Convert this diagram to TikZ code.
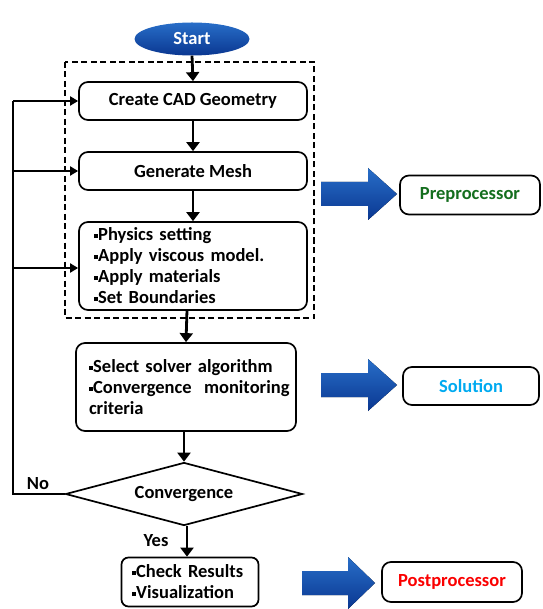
\documentclass[tikz,border=0pt]{standalone}
\usepackage{fontspec}
\setmainfont{Carlito}
\usetikzlibrary{arrows.meta,shapes.geometric}
\definecolor{bluetop}{RGB}{40,110,200}
\definecolor{bluebot}{RGB}{10,55,145}
\definecolor{pregreen}{RGB}{20,110,30}
\definecolor{solblue}{RGB}{0,170,240}
\definecolor{postred}{RGB}{250,0,0}
\newcommand{\bul}{\rule[0.32ex]{3.6pt}{3.8pt}\kern0.6pt}
\tikzset{
  txt/.style={font=\fontsize{18.5}{21}\selectfont\bfseries},
  box/.style={draw=black,line width=1.7pt,rounded corners=9pt,inner sep=0pt,txt},
  flow/.style={line width=2.8pt,-{Triangle[length=9pt,width=13pt]}},
  loop/.style={line width=1.8pt},
  looparrow/.style={line width=1.8pt,-{Triangle[length=8pt,width=9pt]}},
  bigarrow/.style={top color=bluetop,bottom color=bluebot,draw=none},
  lab/.style={txt,inner sep=0pt}
}
\begin{document}
\begin{tikzpicture}[x=1pt,y=-1pt]
\useasboundingbox (0,0) rectangle (542,609);
% start
\node[ellipse,minimum width=115pt,minimum height=33pt,inner sep=0pt,top color=bluetop,bottom color=bluebot,text=white,txt] (start) at (192,39) {Start};
% dashed group
\draw[line width=1.3pt,dash pattern=on 6pt off 3.5pt] (65,62) rectangle (314,318);
% boxes
\node[box,minimum width=228pt,minimum height=38pt] (cad) at (193,101) {Create CAD Geometry};
\node[box,minimum width=228pt,minimum height=38pt] (mesh) at (193,171) {Generate Mesh};
\node[box,minimum width=228pt,minimum height=88pt,text width=198pt,align=left] (phys) at (193,266)
  {\bul Physics setting\\\bul Apply viscous model.\\\bul Apply materials\\\bul Set Boundaries};
\node[box,minimum width=220pt,minimum height=88pt,text width=194pt,align=left] (solver) at (186,387)
  {\bul Select solver algorithm\\\makebox[194pt][l]{\bul Convergence\ \ monitoring}\\criteria};
\node[diamond,draw=black,line width=1.7pt,minimum width=237pt,minimum height=63pt,aspect=3.76,inner sep=0pt,txt] (conv) at (184,494) {Convergence};
\node[box,rounded corners=7pt,minimum width=137pt,minimum height=49pt,text width=116pt,align=left] (check) at (190,582)
  {\bul Check Results\\\bul Visualization};
% right labels
\node[box,minimum width=140pt,minimum height=39pt,text=pregreen] (pre) at (470,195) {Preprocessor};
\node[box,minimum width=136pt,minimum height=38pt,text=solblue] (sol) at (471,386) {Solution};
\node[box,minimum width=140pt,minimum height=40pt,text=postred] (post) at (452,582) {Postprocessor};
% big arrows
\fill[bigarrow] (321,182) -- (368,182) -- (368,168) -- (397,194) -- (368,220) -- (368,206) -- (321,206) -- cycle;
\fill[bigarrow] (321,373) -- (368,373) -- (368,359) -- (397,385) -- (368,411) -- (368,397) -- (321,397) -- cycle;
\fill[bigarrow] (302,571) -- (348,571) -- (348,557) -- (375,583) -- (348,609) -- (348,595) -- (302,595) -- cycle;
% flow arrows
\draw[flow] (start.south) -- (cad.north);
\draw[flow] (cad.south) -- (mesh.north);
\draw[flow] (mesh.south) -- (phys.north);
\draw[flow] (187,310) -- (solver.north);
\draw[flow] (solver.south -| conv.north) -- (conv.north);
\draw[flow] (conv.south) ++(3,0) coordinate (cs) -- (cs |- check.north);
% loop
\coordinate (lx) at (13,494);
\draw[loop] (conv.west) -- (lx) -- (13,101);
\draw[looparrow] (13,101) -- (cad.west);
\draw[looparrow] (13,171) -- (mesh.west);
\draw[looparrow] (13,268) -- (phys.west |- 0,268);
\node[lab,anchor=center] (no) at (38,484) {No};
\node[lab,anchor=center] (yes) at (156,541) {Yes};
\end{tikzpicture}
\end{document}
